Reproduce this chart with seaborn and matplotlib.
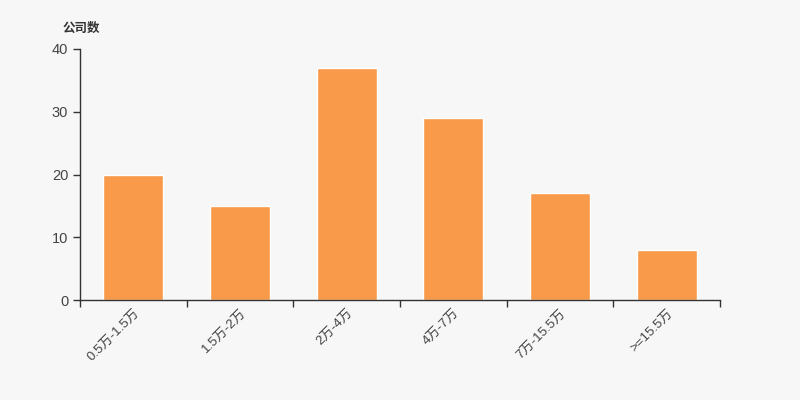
import matplotlib.pyplot as plt
import seaborn as sns

categories = ["0.5万-1.5万", "1.5万-2万", "2万-4万", "4万-7万", "7万-15.5万", ">=15.5万"]
counts = [20, 15, 37, 29, 17, 8]

sns.set_style("ticks")
plt.rcParams['font.family'] = ['Liberation Sans', 'Noto Sans CJK SC', 'DejaVu Sans']

bg = "#f7f7f7"
fig = plt.figure(figsize=(8, 4), dpi=100, facecolor=bg)
ax = fig.add_axes([0.1, 0.25, 0.8, 0.6275])
ax.set_facecolor(bg)

sns.barplot(x=categories, y=counts, color="#f89a4a", saturation=1, width=0.56, ax=ax)

ax.set_xlim(-0.5, 5.5)
ax.set_ylim(0, 40)
ax.set_yticks([0, 10, 20, 30, 40])
ax.set_xticks(range(len(categories)))
ax.set_xticklabels(categories, rotation=45, ha="right", va="top", rotation_mode="anchor")
ax.set_xticks([i - 0.5 for i in range(len(categories) + 1)], minor=True)
ax.tick_params(axis="x", which="major", length=0, pad=5, labelsize=9.5, labelcolor="#444444")
ax.tick_params(axis="x", which="minor", bottom=True, length=5, color="#333333", width=1)
ax.tick_params(axis="y", which="major", left=True, length=5, width=1, color="#333333",
               labelsize=10.5, labelcolor="#444444")

for side in ["top", "right"]:
    ax.spines[side].set_visible(False)
for side in ["left", "bottom"]:
    ax.spines[side].set_color("#333333")
    ax.spines[side].set_linewidth(1)

fig.text(0.078, 0.93, "公司数", fontsize=9, fontweight="bold", color="#333333",
         ha="left", va="center", family=['Noto Sans CJK SC', 'DejaVu Sans'])
ax.set_xlabel("")
ax.set_ylabel("")

fig.savefig("out.png", dpi=100, facecolor=bg)
